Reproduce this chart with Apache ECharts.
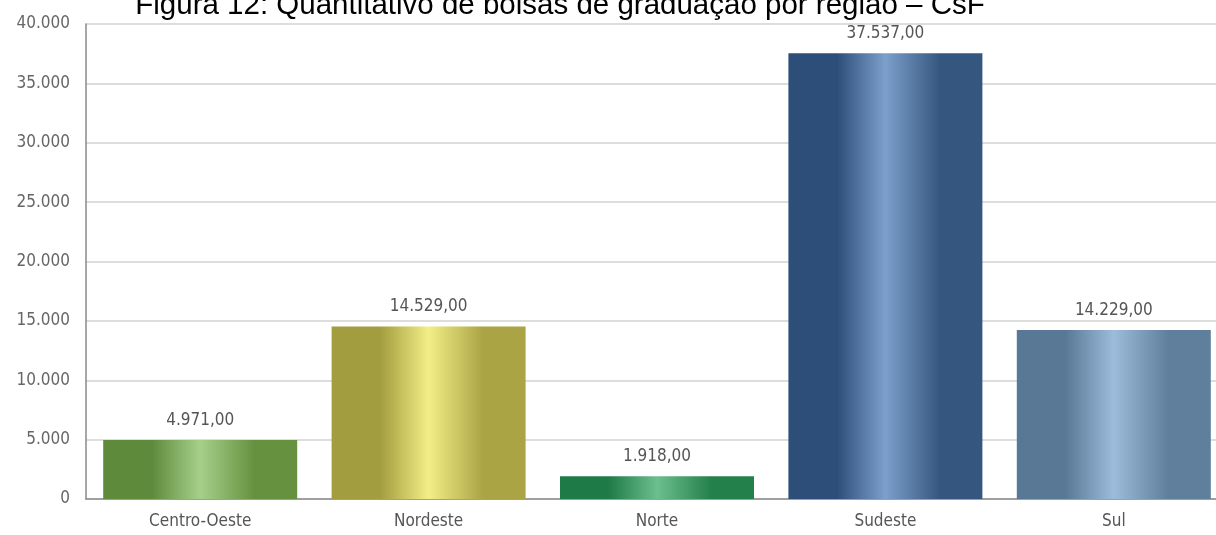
<!DOCTYPE html>
<html><head><meta charset="utf-8">
<script src="https://cdn.jsdelivr.net/npm/echarts@6/dist/echarts.min.js"></script>
<style>html,body{margin:0;padding:0;background:#fff}#c{width:1216px;height:535px}</style>
</head><body><div id="c"></div>
<script>
const titleText = 'Figura 12: Quantitativo de bolsas de graduação por região – CsF';
const categories = ['Centro-Oeste', 'Nordeste', 'Norte', 'Sudeste', 'Sul'];
const values = [4971, 14529, 1918, 37537, 14229];
const valueLabels = ['4.971,00', '14.529,00', '1.918,00', '37.537,00', '14.229,00'];
const yTicks = [0, 5000, 10000, 15000, 20000, 25000, 30000, 35000, 40000];
const palette = [
  ['#5e8a3c', '#a6d08a', '#66913f'],
  ['#a29d3e', '#f4ee86', '#aaa445'],
  ['#1e7a46', '#6cbf8e', '#24804a'],
  ['#2d4e79', '#7c9fcb', '#35577f'],
  ['#597896', '#9dbbda', '#5f7f9c']
];
function grad(c){
  return new echarts.graphic.LinearGradient(0,0,1,0,[
    {offset:0,color:c[0]},{offset:0.25,color:c[0]},{offset:0.5,color:c[1]},{offset:0.78,color:c[2]},{offset:1,color:c[2]}
  ]);
}
const fmt = v => String(v).replace(/\B(?=(\d{3})+(?!\d))/g, '.');
const chart = echarts.init(document.getElementById('c'));
chart.setOption({
  animation:false,
  title:{text:titleText,left:555,textAlign:'center',top:-14,textStyle:{fontFamily:'Liberation Sans',fontSize:29.5,fontWeight:'normal',color:'#000'}},
  grid:{left:86,width:1142,top:24,bottom:36,outerBoundsMode:'none',containLabel:false},
  xAxis:{type:'category',data:categories,
    axisLine:{lineStyle:{color:'#8a8a8a',width:1.5}},axisTick:{show:false},
    axisLabel:{color:'#555',fontFamily:'DejaVu Sans Condensed',fontSize:17,margin:14}},
  yAxis:{type:'value',min:0,max:40000,interval:5000,
    axisLine:{show:true,lineStyle:{color:'#8a8a8a',width:1.5}},axisTick:{show:false},
    splitLine:{lineStyle:{color:'#d2d2d2',width:1.5}},
    axisLabel:{color:'#666',fontFamily:'DejaVu Sans Condensed',fontSize:17,margin:16,
      formatter:v=>yTicks.includes(v)?fmt(v):''}},
  series:[{type:'bar',barWidth:194,
    data:values.map((v,i)=>({value:v,itemStyle:{color:grad(palette[i])}})),
    label:{show:true,position:'top',distance:11,color:'#555',fontFamily:'DejaVu Sans Condensed',fontSize:17,
      formatter:p=>valueLabels[p.dataIndex]}}]
});
</script></body></html>
